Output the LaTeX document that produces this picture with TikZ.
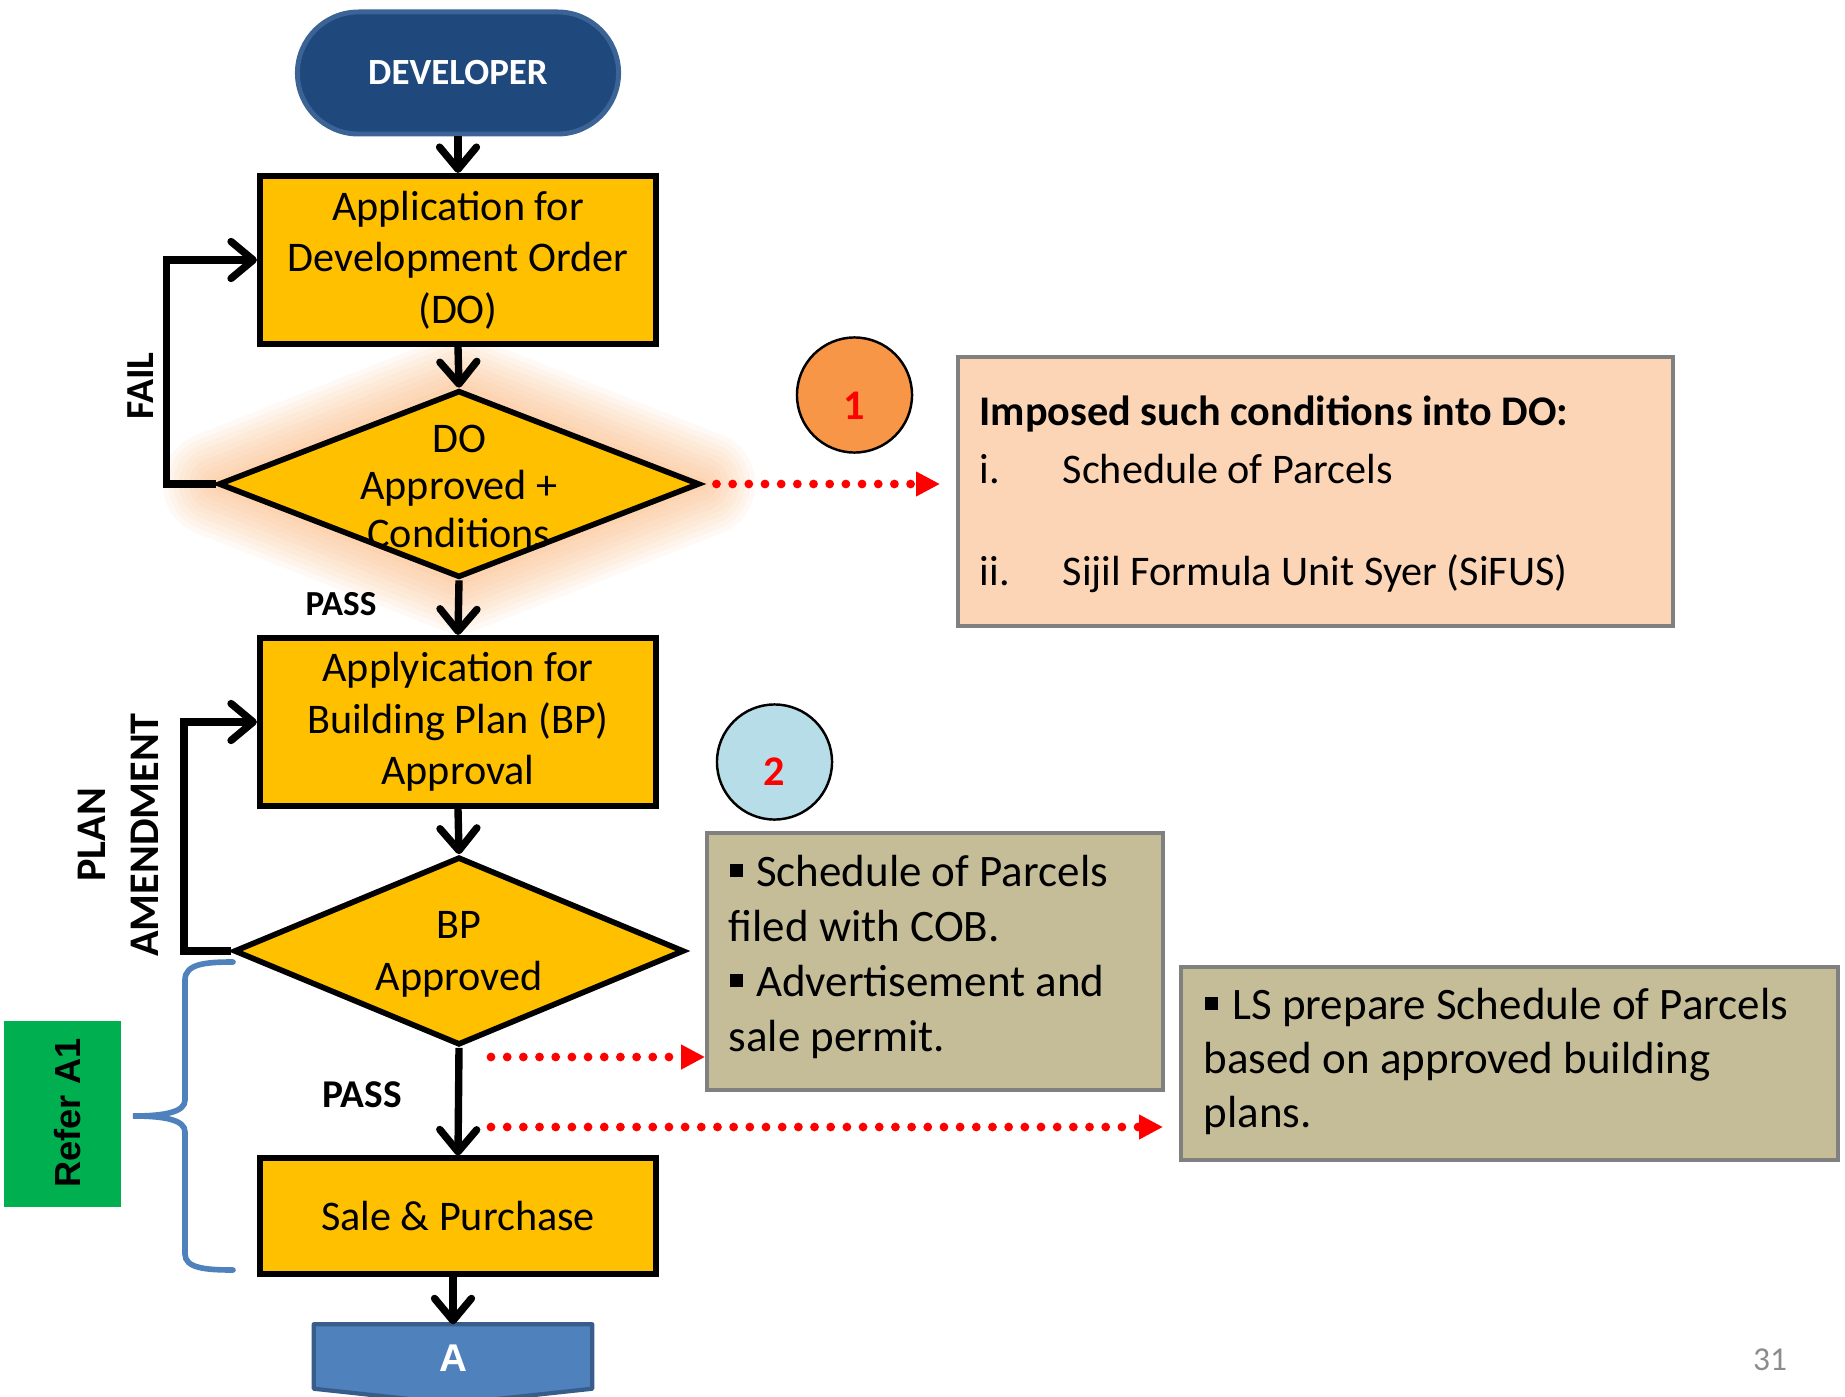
\documentclass[tikz,border=0pt]{standalone}
\usepackage{fontspec}
\setmainfont{Carlito}
\newfontfamily\arialfont{Liberation Sans}
\usetikzlibrary{arrows.meta,shapes.geometric,shapes.misc,calc}

\definecolor{boxyellow}{HTML}{FFC000}
\definecolor{devfill}{HTML}{1F497D}
\definecolor{devedge}{HTML}{3B6396}
\definecolor{conblue}{HTML}{4F81BD}
\definecolor{conedge}{HTML}{385D8A}
\definecolor{refgreen}{HTML}{00B050}
\definecolor{peach}{HTML}{FBD5B5}
\definecolor{khaki}{HTML}{C4BD97}
\definecolor{noteedge}{HTML}{808080}
\definecolor{orangedot}{HTML}{F79646}
\definecolor{bluedot}{HTML}{B7DEE8}
\definecolor{glowc}{HTML}{F8A055}
\definecolor{pagegray}{HTML}{8C8C8C}

\pgfdeclarelayer{glow}
\pgfsetlayers{glow,main}

\begin{document}
\begin{tikzpicture}[x=0.01cm, y=-0.01cm,
  devbox/.style={rounded rectangle, fill=devfill, draw=devedge, line width=1.4pt,
    minimum width=3.21cm, minimum height=1.22cm, inner sep=0pt,
    text=white, font=\fontsize{10.5}{12}\selectfont\bfseries},
  flowbox/.style={rectangle, draw=black, line width=1.7pt, fill=boxyellow,
    minimum width=3.96cm, align=center, inner sep=0pt,
    font=\fontsize{12}{14.7}\selectfont},
  decision/.style={diamond, draw=black, line width=1.6pt, fill=boxyellow, inner sep=0pt},
  dtext/.style={align=center, inner sep=0pt, font=\fontsize{12}{13.5}\selectfont},
  dtextb/.style={align=center, inner sep=0pt, font=\fontsize{12}{14.8}\selectfont},
  conn/.style={line width=2.1pt, -{Straight Barb[length=6.3pt,width=10.5pt,round]}},
  hint/.style={red, line width=2.5pt, dash pattern=on 0pt off 4.6pt, line cap=round,
    -{Triangle[length=6.8pt,width=6.6pt]}},
  tag/.style={inner sep=0pt, font=\bfseries},
  notebox/.style={rectangle, draw=noteedge, line width=1pt, inner sep=0pt},
  noteline/.style={anchor=base west, inner sep=0pt},
  badge/.style={circle, draw=black, line width=0.7pt, minimum size=1.15cm, inner sep=0pt},
  badgenum/.style={inner sep=0pt, text=red, font=\fontsize{12}{12}\selectfont\bfseries},
  bracket/.style={draw=conblue, line width=1.6pt, line cap=round}
]
\useasboundingbox (0,0) rectangle (1845,1397);

% ---- main flow ----
\node[devbox] (dev) at (458,73) {DEVELOPER};
\node[flowbox, minimum height=1.68cm] (b1) at (458,260) {Application for\\Development Order\\(DO)};
\node[decision, minimum width=4.81cm, minimum height=1.87cm] (d1) at (459,484) {};
\node[dtext] (d1t) at (459,486) {DO\\Approved +\\Conditions};
\node[flowbox, minimum height=1.68cm] (b2) at (458,722) {Applyication for\\Building Plan (BP)\\Approval};
\node[decision, minimum width=4.5cm, minimum height=1.88cm] (d2) at (459,951) {};
\node[dtextb] (d2t) at (459,954) {BP\\Approved};
\node[flowbox, minimum height=1.15cm] (sale) at (458,1216) {Sale \& Purchase};

% soft orange halo behind the first decision
\begin{pgfonlayer}{glow}
  \foreach \w in {3,6,...,30}
    \draw[glowc, opacity=0.06, line width=\w pt, line join=round]
      (d1.north) -- (d1.east) -- (d1.south) -- (d1.west) -- cycle;
\end{pgfonlayer}

% off-page connector
\path node[minimum width=2.77cm, minimum height=0.63cm, inner sep=0pt] (conA) at (453,1356.5) {};
\filldraw[fill=conblue, draw=conedge, line width=1.2pt, line join=round]
  (conA.north west) -- (conA.north east) -- (conA.south east)
  -- ($(conA.south)+(0,15)$) -- (conA.south west) -- cycle;
\node[inner sep=0pt, text=white, font=\arialfont\fontsize{11}{11}\selectfont\bfseries] (conAt) at (453,1358) {A};

% connectors
\draw[conn] (dev.south) -- (b1.north);
\draw[conn] (b1.south) -- (d1.north);
\draw[conn] (d1.south) -- (b2.north);
\draw[conn] (b2.south) -- (d2.north);
\draw[conn] (d2.south) -- (sale.north);
\draw[conn] (sale.south -| conA) -- (conA.north);
\draw[conn] (d1.west) -- ++(-49,0) |- (b1.west);
\draw[conn] (d2.west) -- ++(-47,0) |- (b2.west);

% branch labels
\node[tag, rotate=90, font=\fontsize{11.3}{12}\selectfont\bfseries] (fail) at (141,386) {FAIL};
\node[tag, font=\fontsize{10}{12}\selectfont\bfseries] (pass1) at (341,604) {PASS};
\node[tag, font=\fontsize{11.2}{12}\selectfont\bfseries] (pass2) at (362,1095) {PASS};
\node[tag, rotate=90, align=center, font=\fontsize{12}{15}\selectfont\bfseries] (amend) at (118,835) {PLAN\\AMENDMENT};

% bracket and its reference
\draw[bracket] (233,962) .. controls (205,962) and (185,964) .. (185,980)
  -- (185,1100) .. controls (185,1112) and (165,1116) .. (133,1116)
  .. controls (165,1116) and (185,1120) .. (185,1132)
  -- (185,1254) .. controls (185,1268) and (205,1270) .. (233,1270);
\node[rectangle, fill=refgreen, minimum width=1.17cm, minimum height=1.86cm, inner sep=0pt] (refer) at (62.5,1114) {};
\node[rotate=90, inner sep=0pt, font=\arialfont\fontsize{10.3}{12}\selectfont\bfseries] (refert) at (68,1113) {Refer A1};

% numbered badges
\node[badge, fill=orangedot] (c1) at (854.5,395) {};
\node[badgenum] (c1n) at (854.5,406) {1};
\node[badge, fill=bluedot] (c2) at (774.5,762) {};
\node[badgenum] (c2n) at (774.5,772) {2};

% note boxes
\node[notebox, fill=peach, minimum width=7.15cm, minimum height=2.69cm] (n1) at (1315.5,491.5) {};
\node[noteline, font=\fontsize{12}{14}\selectfont\bfseries] (n1a) at (979,425) {Imposed such conditions into DO:};
\node[noteline, font=\fontsize{12}{14}\selectfont] (n1b) at (979,483) {\makebox[23.6pt][l]{i.}Schedule of Parcels};
\node[noteline, font=\fontsize{12}{14}\selectfont] (n1c) at (979,585) {\makebox[23.6pt][l]{ii.}Sijil Formula Unit Syer (SiFUS)};

\node[notebox, fill=khaki, minimum width=4.56cm, minimum height=2.57cm] (n2) at (935,961.5) {};
\node[noteline, font=\fontsize{12.8}{15}\selectfont] (n2a) at (729,886) {\rule[2.6pt]{3.7pt}{3.7pt}\hspace{3.8pt}Schedule of Parcels};
\node[noteline, font=\fontsize{12.8}{15}\selectfont] (n2b) at (728,941) {filed with COB.};
\node[noteline, font=\fontsize{12.8}{15}\selectfont] (n2c) at (729,996) {\rule[2.6pt]{3.7pt}{3.7pt}\hspace{3.8pt}Advertisement and};
\node[noteline, font=\fontsize{12.8}{15}\selectfont] (n2d) at (728,1051) {sale permit.};

\node[notebox, fill=khaki, minimum width=6.57cm, minimum height=1.93cm] (n3) at (1509.5,1063.5) {};
\node[noteline, font=\fontsize{12.8}{15}\selectfont] (n3a) at (1204,1019) {\rule[2.6pt]{3.7pt}{3.7pt}\hspace{4.2pt}LS prepare Schedule of Parcels};
\node[noteline, font=\fontsize{12.8}{15}\selectfont] (n3b) at (1203,1073) {based on approved building};
\node[noteline, font=\fontsize{12.8}{15}\selectfont] (n3c) at (1203,1127) {plans.};

% dotted pointers
\coordinate (p2) at (491,1057);
\coordinate (p3) at (491,1127);
\draw[hint, shorten <=0.14cm, shorten >=0.16cm] (d1.east) -- (n1.west |- d1.east);
\draw[hint] (p2) -- (n2.west |- p2);
\draw[hint, shorten >=0.16cm] (p3) -- (n3.west |- p3);

% page number
\node[inner sep=0pt, text=pagegray, font=\fontsize{9.5}{10}\selectfont] (pg) at (1770,1360) {31};
\end{tikzpicture}
\end{document}
